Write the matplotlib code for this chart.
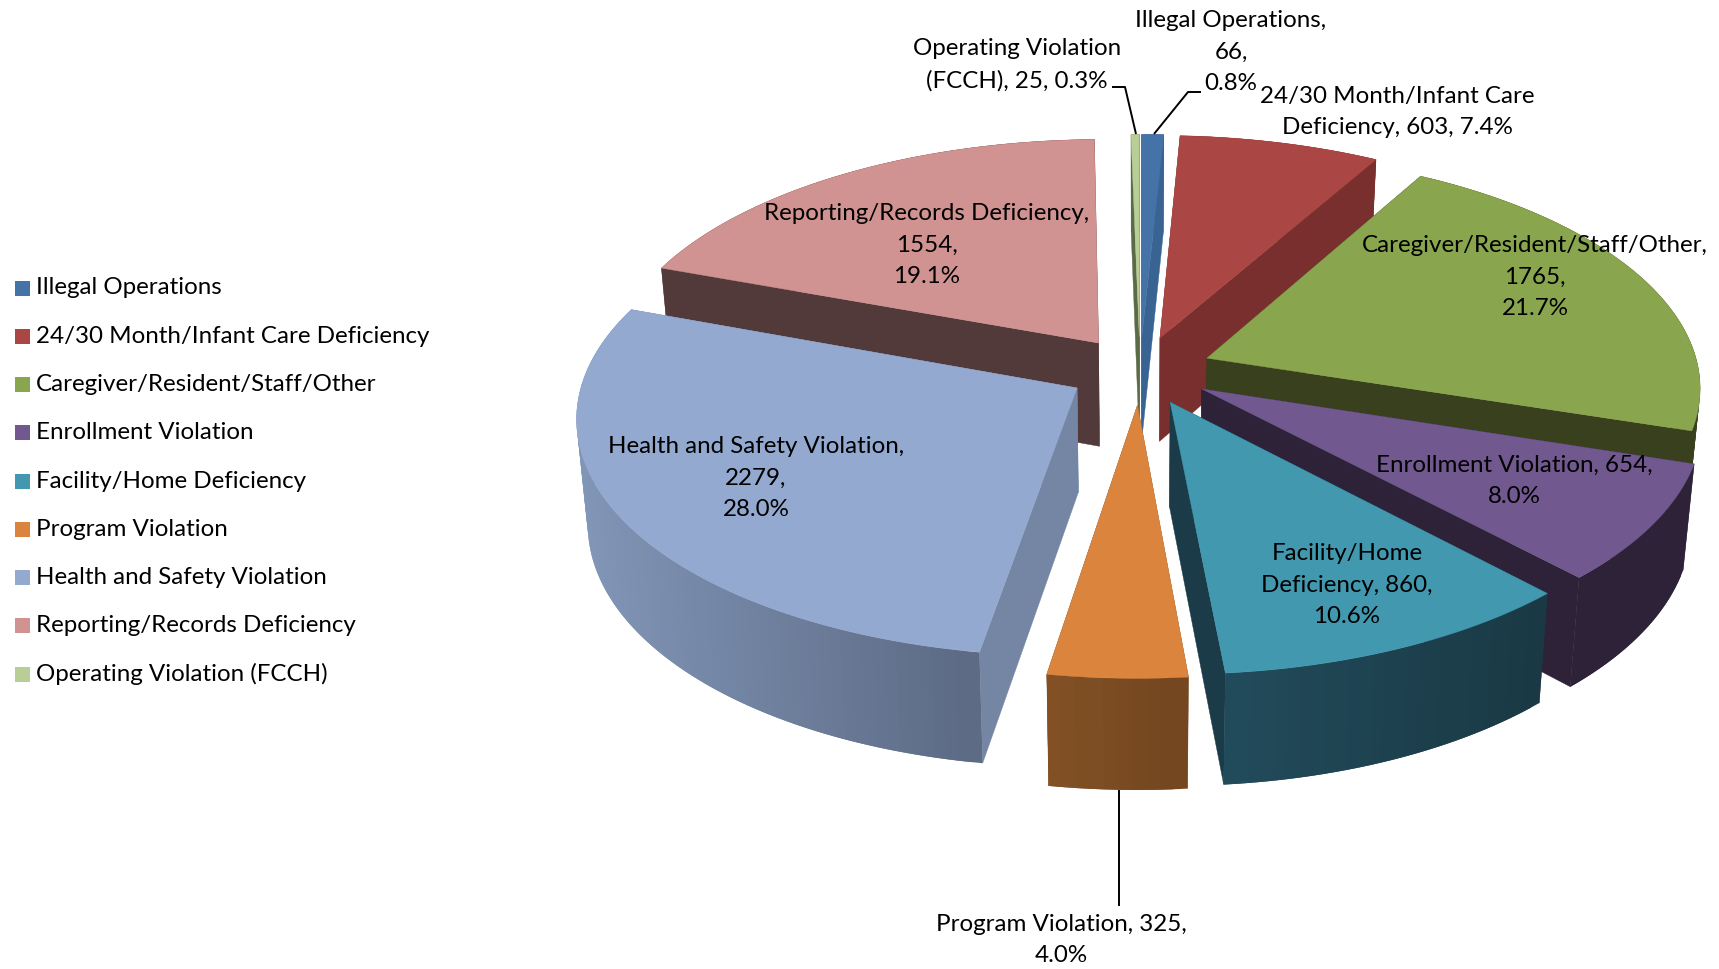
import numpy as np
import matplotlib
matplotlib.use("Agg")
import matplotlib.pyplot as plt

categories = ["Illegal Operations", "24/30 Month/Infant Care Deficiency",
              "Caregiver/Resident/Staff/Other", "Enrollment Violation",
              "Facility/Home Deficiency", "Program Violation",
              "Health and Safety Violation", "Reporting/Records Deficiency",
              "Operating Violation (FCCH)"]
values = [66, 603, 1765, 654, 860, 325, 2279, 1554, 25]
percent_labels = ["0.8%", "7.4%", "21.7%", "8.0%", "10.6%", "4.0%", "28.0%", "19.1%", "0.3%"]

top_colors = ["#4573A7", "#AA4643", "#89A54E", "#71588F", "#4198AF",
              "#DB843D", "#93A9CF", "#D19392", "#B9CD96"]
radial_colors = ["#396393", "#782F2E", "#38401D", "#2D2238", "#1A3B47",
                 "#7E4E24", "#7586A5", "#533A3A", "#5C6B47"]
wall_left = ["#396393", "#782F2E", "#38401D", "#2D2238", "#224C5C",
             "#845225", "#8296B8", "#533A3A", "#5C6B47"]
wall_right = ["#396393", "#782F2E", "#38401D", "#2D2238", "#1A3945",
              "#744620", "#5C6A84", "#533A3A", "#5C6B47"]

label_text = ["Illegal Operations,\n66,\n0.8%",
              "24/30 Month/Infant Care\nDeficiency, 603, 7.4%",
              "Caregiver/Resident/Staff/Other,\n1765,\n21.7%",
              "Enrollment Violation, 654,\n8.0%",
              "Facility/Home\nDeficiency, 860,\n10.6%",
              "Program Violation, 325,\n4.0%",
              "Health and Safety Violation,\n2279,\n28.0%",
              "Reporting/Records Deficiency,\n1554,\n19.1%",
              "Operating Violation\n(FCCH), 25, 0.3%"]
label_xy = [(1231, 52), (1397, 112), (1535, 277), (1514, 481), (1347, 585),
            (1061, 940), (756, 478), (927, 245), (1017, 65)]

FONT = "Lato"
FS = 17.4
W, H = 1719, 969
CX, CY = 1140, 370.5
R, RT = 492, 233
K, EXPL, DEPTH = 0.115, 0.147, 104
SHRINK = 0.98
draw_order = [8, 0, 1, 7, 2, 3, 6, 4, 5]

fig = plt.figure(figsize=(W / 100, H / 100), dpi=100, facecolor="white")
ax = fig.add_axes([0, 0, 1, 1])
ax.set_xlim(0, W)
ax.set_ylim(H, 0)
ax.axis("off")


def project(u, v, bottom=False):
    u = np.asarray(u, float)
    v = np.asarray(v, float)
    p = 1 / (1 - K * v)
    x = R * u * p
    y = RT * v * p
    if bottom:
        x = x * SHRINK
        y = y + DEPTH * np.sqrt(p)
    return CX + x, CY + y


def hex_rgb(c):
    return np.array(matplotlib.colors.to_rgb(c))


fractions = np.array(values) / np.sum(values)
edges = np.concatenate([[0], np.cumsum(fractions)]) * 2 * np.pi

for i in draw_order:
    a0, a1 = edges[i], edges[i + 1]
    mid = (a0 + a1) / 2
    ou, ov = EXPL * np.sin(mid), -EXPL * np.cos(mid)
    th = np.linspace(a0, a1, max(8, int(np.degrees(a1 - a0) * 0.8)))
    u = ou + np.sin(th)
    v = ov - np.cos(th)
    tx, ty = project(u, v)
    bx, by = project(u, v, bottom=True)
    ctx, cty = project(ou, ov)
    cbx, cby = project(ou, ov, bottom=True)
    base = draw_order.index(i) * 10
    # radial faces
    for j in (0, -1):
        ax.fill([ctx, tx[j], bx[j], cbx], [cty, ty[j], by[j], cby],
                color=radial_colors[i], lw=0.3, zorder=base + 1)
    # outer wall, shaded by screen position; each strip overlaps the next one
    cl, cr = hex_rgb(wall_left[i]), hex_rgb(wall_right[i])
    xmin, xmax = min(tx.min(), bx.min()), max(tx.max(), bx.max())
    n = len(th) - 1
    for j in range(n):
        k = min(j + 2, n)
        f = ((tx[j] + tx[j + 1]) / 2 - xmin) / max(xmax - xmin, 1)
        seg = 1 if tx[-1] > tx[0] else -1
        z = base + 2 + (j / n) * 0.5 * seg
        ax.fill(np.r_[tx[j:k + 1], bx[j:k + 1][::-1]], np.r_[ty[j:k + 1], by[j:k + 1][::-1]],
                color=cl + (cr - cl) * f, lw=0, zorder=z)
    # top face
    ax.fill(np.r_[ctx, tx], np.r_[cty, ty], color=top_colors[i], lw=0.3, zorder=base + 3)

for txt, (x, y) in zip(label_text, label_xy):
    ax.text(x, y, txt, ha="center", va="center", multialignment="center",
            fontsize=FS, family=FONT, color="black", linespacing=1.6, zorder=200)

# leader lines
ax.plot([1112, 1125, 1136], [87, 87, 134], color="black", lw=1.4, zorder=150, solid_capstyle="butt")
ax.plot([1201, 1188, 1154], [92, 92, 134], color="black", lw=1.4, zorder=150, solid_capstyle="butt")
ax.plot([1119, 1119], [790, 906], color="black", lw=1.4, zorder=150, solid_capstyle="butt")

# legend
for i, name in enumerate(categories):
    yc = 288 + i * 48.25
    ax.add_patch(plt.Rectangle((15, yc - 7.5), 15, 15, color=top_colors[i], lw=0))
    ax.text(36, yc, name, ha="left", va="center", fontsize=FS, family=FONT, color="black")

fig.savefig("out.png", dpi=100, facecolor="white")
